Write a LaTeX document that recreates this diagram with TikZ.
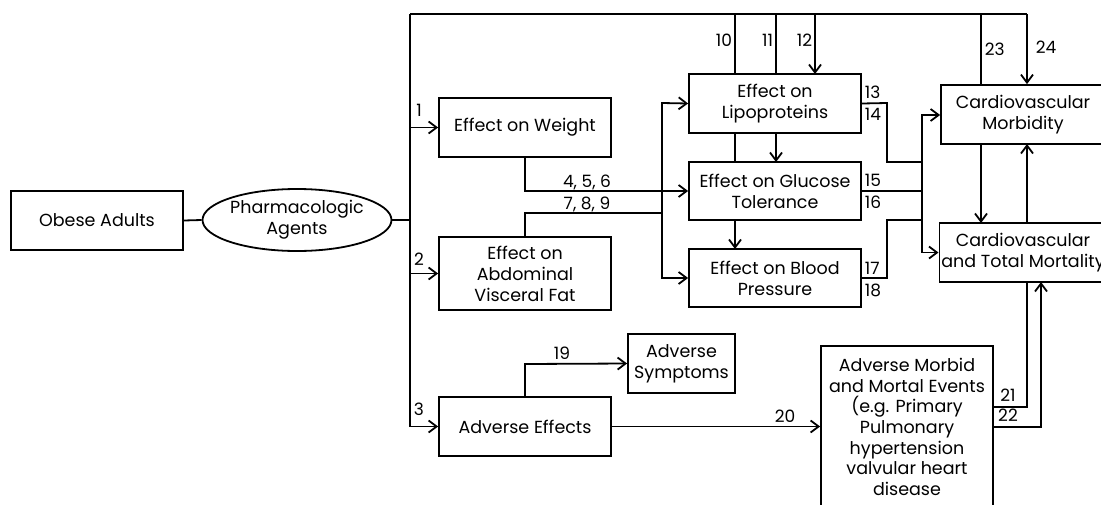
\documentclass[tikz,border=0pt]{standalone}
\usepackage{fontspec}
\setmainfont{Poppins}
\usetikzlibrary{shapes.geometric,arrows.meta,calc}
\begin{document}
\begin{tikzpicture}[x=1pt,y=-1pt,
  line width=1.8pt,
  box/.style={draw,rectangle,minimum width=172pt,minimum height=59pt,align=center,inner sep=2pt,font=\fontsize{17.5}{21}\selectfont},
  num/.style={inner sep=0pt,font=\fontsize{17}{19}\selectfont},
  arr/.style={-{Straight Barb[length=8pt,width=12pt,line width=1.8pt]}}]
\useasboundingbox (0,0) rectangle (1101,504);
\clip (0,0) rectangle (1101,504);
% nodes
\node[box] (obese) at (97,220.5) {Obese Adults};
\node[draw,ellipse,minimum width=173pt,minimum height=62pt,inner sep=0pt,align=center,font=\fontsize{17.5}{21}\selectfont] (agents) at (297,220) {Pharmacologic\\Agents};
\node[box] (weight) at (525,127.5) {Effect on Weight};
\node[box,minimum height=73pt] (abd) at (525,273.5) {Effect on\\Abdominal\\Visceral Fat};
\node[box] (adv) at (525,426.5) {Adverse Effects};
\node[box,minimum width=107pt] (sympt) at (681.5,363.5) {Adverse\\Symptoms};
\node[box] (lipo) at (775,103.5) {Effect on\\Lipoproteins};
\node[box,minimum height=58pt] (gluc) at (775,191) {Effect on Glucose\\Tolerance};
\node[box,minimum height=58pt] (bp) at (775,278) {Effect on Blood\\Pressure};
\node[box,minimum width=164pt] (morb) at (1023,114.5) {Cardiovascular\\Morbidity};
\node[box,minimum width=164pt] (mort) at (1023,252.5) {Cardiovascular\\and Total Mortality};
\node[box,minimum height=162pt,font=\fontsize{17.5}{20.7}\selectfont] (admort) at (907,427) {Adverse Morbid\\and Mortal Events\\(e.g. Primary\\Pulmonary\\hypertension\\valvular heart\\disease};
% coordinates
\coordinate (tl) at (410,14);
\coordinate (tr) at (1027,14);
\coordinate (lt) at (662,103);
\coordinate (rt) at (922,162);
% left connections
\draw (obese.east) -- (agents.west);
\draw (agents.east) -- (tl |- agents.east);
\draw (tl) -- (tl |- adv.west);
\draw (tl) -- (tr);
\draw[arr] (tl |- weight.west) -- (weight.west);
\draw[arr] (tl |- abd.west) -- (abd.west);
\draw[arr] (tl |- adv.west) -- (adv.west);
\node[num] at (419,110) {1};
\node[num] at (419,259) {2};
\node[num] at (419,409) {3};
% top inputs
\draw (735,14) -- (735,74);
\draw (776,14) -- (776,74);
\draw[arr] (815,14) -- (815,74);
\node[num,anchor=east] at (733,40) {10};
\node[num,anchor=east] at (774,40) {11};
\node[num,anchor=east] at (813,40) {12};
\draw (735,133) -- (735,162);
\draw[arr] (776,133) -- (776,162);
\draw[arr] (735,220) -- (735,249);
% weight and abd to mediators
\draw[arr] (weight.south) -- (525,191) -- (gluc.west);
\draw (abd.north) -- (525,213) -- (662,213);
\node[num] at (587,182) {4, 5, 6};
\node[num] at (587,204) {7, 8, 9};
\draw[arr] (lt |- bp.west) -- (lt) -- (lipo.west);
\draw[arr] (lt) -- (lt |- bp.west) -- (bp.west);
% mediators to outcomes
\draw (lipo.east) -- (887,103) -- (887,162) -- (rt);
\draw (gluc.east) -- (922,191);
\draw (bp.east) -- (887,278) -- (887,220) -- (922,220);
\node[num,anchor=west] at (864,92) {13};
\node[num,anchor=west] at (864,114) {14};
\node[num,anchor=west] at (864,180) {15};
\node[num,anchor=west] at (864,202) {16};
\node[num,anchor=west] at (864,268) {17};
\node[num,anchor=west] at (864,290) {18};
\draw[arr] (rt) |- (morb.west |- 0,115);
\draw[arr] (rt) |- (mort.west);
% top to outcomes
\draw[arr] (tr) -- (tr |- morb.north);
\draw (981,14) -- (981 ,85);
\draw[arr] (981,144) -- (981,223);
\draw[arr] (1027,223) -- (1027,144);
\node[num,anchor=west] at (984,49) {23};
\node[num,anchor=west] at (1035,47) {24};
% adverse
\draw[arr] (adv.north) -- (525,364) -- (sympt.west);
\node[num] at (562,353) {19};
\draw[arr] (adv.east) -- (admort.west |- adv.east);
\node[num] at (785,416) {20};
\draw (993,407) -- (1027,407) -- (1027,282);
\draw[arr] (993,427) -- (1041,427) -- (1041,282);
\node[num] at (1008,395) {21};
\node[num] at (1008,415) {22};
\end{tikzpicture}
\end{document}
